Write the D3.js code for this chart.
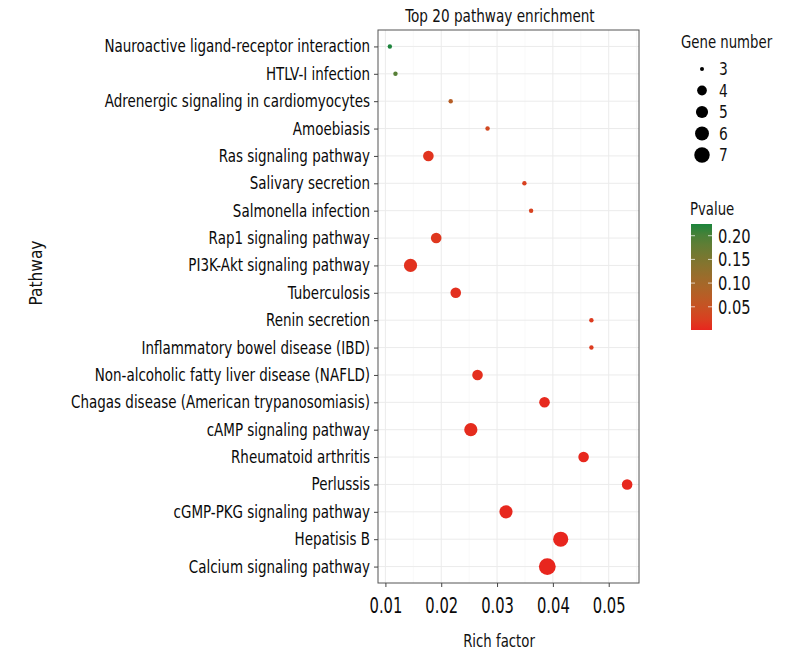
<!DOCTYPE html>
<html>
<head>
<meta charset="utf-8">
<script src="https://cdn.jsdelivr.net/npm/d3@7"></script>
<style>
  body { margin: 0; background: #fff; }
  svg text { font-family: "DejaVu Sans Condensed", "Liberation Sans Narrow", sans-serif; fill: #111; }
</style>
</head>
<body>
<div id="app"></div>
<script>
// pathways, top to bottom
var pathways = [
  "Nauroactive ligand-receptor interaction",
  "HTLV-I infection",
  "Adrenergic signaling in cardiomyocytes",
  "Amoebiasis",
  "Ras signaling pathway",
  "Salivary secretion",
  "Salmonella infection",
  "Rap1 signaling pathway",
  "PI3K-Akt signaling pathway",
  "Tuberculosis",
  "Renin secretion",
  "Inflammatory bowel disease (IBD)",
  "Non-alcoholic fatty liver disease (NAFLD)",
  "Chagas disease (American trypanosomiasis)",
  "cAMP signaling pathway",
  "Rheumatoid arthritis",
  "Perlussis",
  "cGMP-PKG signaling pathway",
  "Hepatisis B",
  "Calcium signaling pathway"
]
var richFactor = [0.0108, 0.0118, 0.0217, 0.0283, 0.0177, 0.0349, 0.0361, 0.0191, 0.0145, 0.0226,
                  0.0469, 0.0469, 0.0265, 0.0385, 0.0253, 0.0455, 0.0533, 0.0316, 0.0414, 0.0390]
var geneNumber = [3, 3, 3, 3, 4, 3, 3, 4, 5, 4,
                  3, 3, 4, 4, 5, 4, 4, 5, 6, 7]
var pvalue = [0.224, 0.19, 0.075, 0.035, 0.012, 0.025, 0.027, 0.014, 0.010, 0.008,
              0.018, 0.018, 0.007, 0.003, 0.005, 0.002, 0.002, 0.002, 0.001, 0.001]
var xTicks = [0.01, 0.02, 0.03, 0.04, 0.05]
var sizeBreaks = [3, 4, 5, 6, 7]
var pBreaks = [0.05, 0.10, 0.15, 0.20]

var data = pathways.map(function(p, i){
  return {name: p, x: richFactor[i], n: geneNumber[i], p: pvalue[i]}
})

var W = 800, H = 660
var panel = {left: 378, right: 639, top: 30, bottom: 583}

var svg = d3.select("#app").append("svg").attr("width", W).attr("height", H)

// squeeze text horizontally, the original font is a condensed one
function condense(sel, k){
  sel.each(function(){
    var w = this.getComputedTextLength()
    d3.select(this).attr("textLength", w * k).attr("lengthAdjust", "spacingAndGlyphs")
  })
}

// ggplot-ish 5% expansion
var xr = d3.extent(richFactor)
var pad = (xr[1] - xr[0]) * 0.05
var x = d3.scaleLinear().domain([xr[0] - pad, xr[1] + pad]).range([panel.left, panel.right])
var y = d3.scalePoint().domain(pathways).range([panel.top, panel.bottom]).padding(0.6)

var nExt = d3.extent(geneNumber)
var rLin = d3.scaleLinear().domain([0, 1]).range([2.2, 8.4])
function radius(n){ return rLin(Math.sqrt((n - nExt[0]) / (nExt[1] - nExt[0]))) }

var pExt = [0.001, 0.2247]
var colour = d3.scaleLinear().domain(pExt).range(["#e8261e", "#1b843c"]).interpolate(d3.interpolateLab)

// grid
var minor = d3.range(0.005, x.domain()[1], 0.01).filter(function(v){ return v > x.domain()[0] })
svg.append("g").selectAll("line").data(minor).enter().append("line")
  .attr("x1", d=>x(d)).attr("x2", d=>x(d)).attr("y1", panel.top).attr("y2", panel.bottom)
  .attr("stroke", "#f4f4f4").attr("stroke-width", 0.6)
svg.append("g").selectAll("line").data(xTicks).enter().append("line")
  .attr("x1", d=>x(d)).attr("x2", d=>x(d)).attr("y1", panel.top).attr("y2", panel.bottom)
  .attr("stroke", "#ebebeb").attr("stroke-width", 1)
svg.append("g").selectAll("line").data(pathways).enter().append("line")
  .attr("x1", panel.left).attr("x2", panel.right).attr("y1", d=>y(d)).attr("y2", d=>y(d))
  .attr("stroke", "#ebebeb").attr("stroke-width", 1)

// points
svg.append("g").selectAll("circle").data(data).enter().append("circle")
  .attr("cx", d=>x(d.x)).attr("cy", d=>y(d.name))
  .attr("r", d=>radius(d.n))
  .attr("fill", d=>colour(d.p))

// border
svg.append("rect").attr("x", panel.left).attr("y", panel.top)
  .attr("width", panel.right - panel.left).attr("height", panel.bottom - panel.top)
  .attr("fill", "none").attr("stroke", "#555").attr("stroke-width", 1)

// axes
var xAxis = svg.append("g").attr("transform", "translate(0," + panel.bottom + ")")
  .call(d3.axisBottom(x).tickValues(xTicks).tickSize(4).tickFormat(d3.format(".2f")))
var yAxis = svg.append("g").attr("transform", "translate(" + panel.left + ",0)")
  .call(d3.axisLeft(y).tickSize(4).tickPadding(4))
;[xAxis, yAxis].forEach(function(a){
  a.select(".domain").remove()
  a.selectAll(".tick line").attr("stroke", "#444")
  a.selectAll(".tick text").attr("font-family", null).style("fill", "#0a0a0a")
})
xAxis.selectAll(".tick text").attr("font-size", 21).attr("y", 15).attr("dy", "0.72em")
yAxis.selectAll(".tick text").attr("font-size", 17)
condense(xAxis.selectAll(".tick text"), 0.78)
condense(yAxis.selectAll(".tick text"), 0.88)

// titles
condense(svg.append("text").text("Top 20 pathway enrichment")
  .attr("x", 500).attr("y", 22).attr("text-anchor", "middle").attr("font-size", 18), 0.84)
condense(svg.append("text").text("Rich factor")
  .attr("x", 499).attr("y", 647).attr("text-anchor", "middle").attr("font-size", 18), 0.82)
condense(svg.append("text").text("Pathway")
  .attr("text-anchor", "middle").attr("font-size", 18)
  .attr("transform", "translate(42,273) rotate(-90)"), 0.95)

// size legend
var lg = svg.append("g")
condense(lg.append("text").text("Gene number").attr("x", 681).attr("y", 48).attr("font-size", 18), 0.82)
var keyY = d3.scalePoint().domain(sizeBreaks).range([69, 155])
sizeBreaks.forEach(function(s){
  lg.append("circle").attr("cx", 702).attr("cy", keyY(s)).attr("r", radius(s) * 0.92).attr("fill", "#000")
  condense(lg.append("text").text(s).attr("x", 719).attr("y", keyY(s)).attr("dy", "0.36em")
    .attr("font-size", 17), 0.9)
})

// colour legend
var cb = {x: 691, w: 21, top: 224, bottom: 330}
condense(lg.append("text").text("Pvalue").attr("x", 690).attr("y", 215).attr("font-size", 18), 0.82)
var defs = svg.append("defs")
var grad = defs.append("linearGradient").attr("id", "pgrad")
  .attr("x1", 0).attr("y1", 1).attr("x2", 0).attr("y2", 0)
d3.range(0, 1.0001, 0.1).forEach(function(t){
  grad.append("stop").attr("offset", t)
    .attr("stop-color", colour(pExt[0] + t * (pExt[1] - pExt[0])))
})
lg.append("rect").attr("x", cb.x).attr("y", cb.top).attr("width", cb.w)
  .attr("height", cb.bottom - cb.top).attr("fill", "url(#pgrad)")
var py = d3.scaleLinear().domain(pExt).range([cb.bottom, cb.top])
pBreaks.forEach(function(p){
  lg.append("line").attr("x1", cb.x).attr("x2", cb.x + 4).attr("y1", py(p)).attr("y2", py(p))
    .attr("stroke", "#fff").attr("stroke-opacity", 0.7)
  lg.append("line").attr("x1", cb.x + cb.w - 4).attr("x2", cb.x + cb.w).attr("y1", py(p)).attr("y2", py(p))
    .attr("stroke", "#fff").attr("stroke-opacity", 0.7)
  condense(lg.append("text").text(d3.format(".2f")(p)).attr("x", 718).attr("y", py(p))
    .attr("dy", "0.36em").attr("font-size", 19), 0.86)
})
</script>
</body>
</html>
